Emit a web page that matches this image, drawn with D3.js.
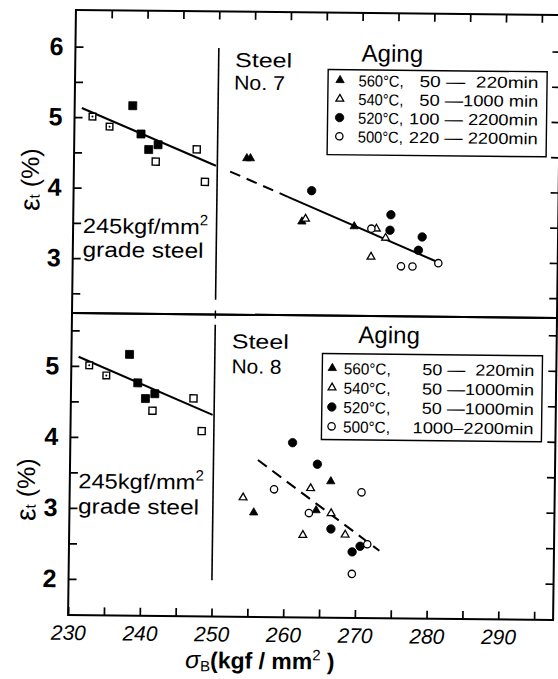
<!DOCTYPE html>
<html>
<head>
<meta charset="utf-8">
<script src="https://cdn.jsdelivr.net/npm/d3@7"></script>
<style>
  body { margin: 0; background: #fff; }
  svg text { font-family: "Liberation Sans", Arial, sans-serif; fill: #000; }
</style>
</head>
<body>
<svg id="chart" width="558" height="679"></svg>
<script>
// ---------- data ----------
// 245 kgf/mm2 grade reference steel (same in both panels)
const refDottedX = [232.5, 234.9];
const refDottedY = [5.01, 4.87];
const refFilledX = [238.1, 239.3, 240.4, 241.7];
const refFilledY = [5.17, 4.77, 4.55, 4.62];
const refOpenX = [241.4, 247.1, 248.3];
const refOpenY = [4.38, 4.56, 4.10];
const refFitX = [231.0, 249.8];
const refFitY = [5.13, 4.33];

// Steel No. 7, aging conditions
const s7Aging560X = [254.1, 254.6, 261.9, 269.2];
const s7Aging560Y = [4.44, 4.44, 3.55, 3.49];
const s7Aging540X = [262.4, 272.3, 273.6, 271.6];
const s7Aging540Y = [3.59, 3.46, 3.33, 3.06];
const s7Aging520X = [263.2, 274.3, 274.2, 278.7, 278.2];
const s7Aging520Y = [3.99, 3.66, 3.44, 3.35, 3.16];
const s7Aging500X = [271.6, 275.8, 277.4, 281.0];
const s7Aging500Y = [3.46, 2.93, 2.93, 2.98];
const s7FitDashX = [251.8, 259.9];
const s7FitDashY = [4.25, 3.90];
const s7FitSolidX = [259.9, 280.8];
const s7FitSolidY = [3.90, 3.00];

// Steel No. 8, aging conditions
const s8Aging560X = [255.7, 266.4, 264.4];
const s8Aging560Y = [2.96, 3.41, 3.00];
const s8Aging540X = [254.2, 263.6, 266.5, 262.6, 268.5];
const s8Aging540Y = [3.17, 3.31, 2.96, 2.65, 2.66];
const s8Aging520X = [261.0, 264.5, 266.5, 270.6, 269.5];
const s8Aging520Y = [3.95, 3.65, 2.74, 2.50, 2.42];
const s8Aging500X = [258.5, 270.7, 263.4, 271.6, 269.5];
const s8Aging500Y = [3.29, 3.26, 2.96, 2.53, 2.11];
const s8FitDashX = [256.2, 273.3];
const s8FitDashY = [3.70, 2.44];

// legend texts: temperature, time range
const s7LegendTemp = ["560°C,", "540°C,", "520°C,", "500°C,"];
const s7LegendTime = ["50 —  220min", "50 —1000 min", "100 — 2200min", "220 — 2200min"];
const s8LegendTemp = ["560°C,", "540°C,", "520°C,", "500°C,"];
const s8LegendTime = ["50 —  220min", "50 —1000min", "50 —1000min", "1000–2200min"];

// axis ranges and ticks
const xDomain = [230, 297.65];
const xTicks = [230, 235, 240, 245, 250, 255, 260, 265, 270, 275, 280, 285, 290, 295];
const xLabels = [230, 240, 250, 260, 270, 280, 290];
const yTopDomain = [2.22, 6.52];
const yTopTicks = [2.5, 3, 3.5, 4, 4.5, 5, 5.5, 6];
const yTopLabels = [3, 4, 5, 6];
const yBotDomain = [1.49, 5.745];
const yBotTicks = [2, 2.5, 3, 3.5, 4, 4.5, 5, 5.5];
const yBotLabels = [2, 3, 4, 5];
const dividerX = 250;
const dividerTop = [6.0, 2.43];
const dividerBot = [5.6, 2.0];

// ---------- layout ----------
const X0 = 72, X1 = 557, YT = 10, YM = 313, YB = 615;
const svg = d3.select("#chart");
// the figure sits very slightly askew on the page
const g = svg.append("g").attr("transform", "matrix(1,0.0102,-0.013,1,4.069,-0.734)");

const x = d3.scaleLinear().domain(xDomain).range([X0, X1]);
const yTop = d3.scaleLinear().domain(yTopDomain).range([YM, YT]);
const yBot = d3.scaleLinear().domain(yBotDomain).range([YB, YM]);

const TICK = 8;

function styleAxis(sel) {
  sel.select(".domain").remove();
  sel.selectAll(".tick line").attr("stroke", "#000").attr("stroke-width", 1.7);
}

function drawFrame(y0, y1) {
  g.append("rect").attr("x", X0).attr("y", y0).attr("width", X1 - X0).attr("height", y1 - y0)
    .attr("fill", "none").attr("stroke", "#000").attr("stroke-width", 2);
}

function drawYAxes(y, ticks, labels) {
  const left = g.append("g").attr("transform", `translate(${X0},0)`)
    .call(d3.axisLeft(y).tickValues(ticks).tickSize(-TICK).tickPadding(12)
      .tickFormat(d => labels.includes(d) ? d : ""));
  styleAxis(left);
  left.selectAll("text").attr("font-size", 25).attr("font-weight", "bold");
  const right = g.append("g").attr("transform", `translate(${X1},0)`)
    .call(d3.axisRight(y).tickValues(ticks).tickSize(-TICK).tickFormat(""));
  styleAxis(right);
}

// ---------- frames and axes ----------
drawFrame(YT, YM);
drawFrame(YM, YB);
drawYAxes(yTop, yTopTicks, yTopLabels);
drawYAxes(yBot, yBotTicks, yBotLabels);

const topAx = g.append("g").attr("transform", `translate(0,${YT})`)
  .call(d3.axisTop(x).tickValues(xTicks.slice(1)).tickSize(-TICK).tickFormat(""));
styleAxis(topAx);

const botAx = g.append("g").attr("transform", `translate(0,${YB})`)
  .call(d3.axisBottom(x).tickValues(xTicks).tickSize(-TICK).tickPadding(10)
    .tickFormat(d => xLabels.includes(d) ? d : ""));
styleAxis(botAx);
botAx.selectAll("text").attr("font-size", 21).attr("font-style", "italic");

// dividers at 250 kgf/mm2
g.append("line").attr("x1", x(dividerX)).attr("x2", x(dividerX))
  .attr("y1", yTop(dividerTop[0])).attr("y2", yTop(dividerTop[1]))
  .attr("stroke", "#000").attr("stroke-width", 1.6);
g.append("line").attr("x1", x(dividerX)).attr("x2", x(dividerX))
  .attr("y1", yBot(dividerBot[0])).attr("y2", yBot(dividerBot[1]))
  .attr("stroke", "#000").attr("stroke-width", 1.6);
g.append("line").attr("x1", x(dividerX)).attr("x2", x(dividerX))
  .attr("y1", YM - 4).attr("y2", YM + 4).attr("stroke", "#000").attr("stroke-width", 1.4);

// ---------- fit lines ----------
function fitLine(xs, ys, y, dash) {
  g.append("line")
    .attr("x1", x(xs[0])).attr("y1", y(ys[0]))
    .attr("x2", x(xs[1])).attr("y2", y(ys[1]))
    .attr("stroke", "#000").attr("stroke-width", 2)
    .attr("stroke-dasharray", dash ? "11,7" : null);
}
fitLine(refFitX, refFitY, yTop, false);
fitLine(s7FitDashX, s7FitDashY, yTop, true);
fitLine(s7FitSolidX, s7FitSolidY, yTop, false);
fitLine(refFitX, refFitY, yBot, false);
fitLine(s8FitDashX, s8FitDashY, yBot, true);

// ---------- markers ----------
const markerStyles = {
  triFilled: { type: d3.symbolTriangle, size: 30, fill: "#000", stroke: "#000", sw: 0.8 },
  triOpen:   { type: d3.symbolTriangle, size: 26, fill: "#fff", stroke: "#000", sw: 1.3 },
  dotFilled: { type: d3.symbolCircle,   size: 56, fill: "#000", stroke: "#000", sw: 0.8 },
  dotOpen:   { type: d3.symbolCircle,   size: 42, fill: "#fff", stroke: "#000", sw: 1.3 },
  sqFilled:  { type: d3.symbolSquare,   size: 64, fill: "#000", stroke: "#000", sw: 0.8 },
  sqOpen:    { type: d3.symbolSquare,   size: 50, fill: "#fff", stroke: "#000", sw: 1.4 },
  sqDotted:  { type: d3.symbolSquare,   size: 44, fill: "#fff", stroke: "#000", sw: 1.4 }
};

function marker(cx, cy, kind) {
  const s = markerStyles[kind];
  g.append("path")
    .attr("d", d3.symbol().type(s.type).size(s.size)())
    .attr("transform", `translate(${cx},${cy})`)
    .attr("fill", s.fill).attr("stroke", s.stroke).attr("stroke-width", s.sw);
  if (kind === "sqDotted") {
    g.append("circle").attr("cx", cx).attr("cy", cy).attr("r", 1).attr("fill", "#000");
  }
}

function series(xs, ys, y, kind) {
  xs.forEach((v, i) => marker(x(v), y(ys[i]), kind));
}

[yTop, yBot].forEach(y => {
  series(refDottedX, refDottedY, y, "sqDotted");
  series(refOpenX, refOpenY, y, "sqOpen");
  series(refFilledX, refFilledY, y, "sqFilled");
});

series(s7Aging560X, s7Aging560Y, yTop, "triFilled");
series(s7Aging520X, s7Aging520Y, yTop, "dotFilled");
series(s7Aging540X, s7Aging540Y, yTop, "triOpen");
series(s7Aging500X, s7Aging500Y, yTop, "dotOpen");

series(s8Aging560X, s8Aging560Y, yBot, "triFilled");
series(s8Aging520X, s8Aging520Y, yBot, "dotFilled");
series(s8Aging540X, s8Aging540Y, yBot, "triOpen");
series(s8Aging500X, s8Aging500Y, yBot, "dotOpen");

// ---------- legends ----------
const legendKinds = ["triFilled", "triOpen", "dotFilled", "dotOpen"];

function legend(cfg, temps, times) {
  g.append("text").attr("x", cfg.titleX).attr("y", cfg.titleY)
    .attr("text-anchor", "middle").attr("font-size", 24).text("Aging");
  g.append("rect").attr("x", cfg.box[0]).attr("y", cfg.box[1])
    .attr("width", cfg.box[2]).attr("height", cfg.box[3])
    .attr("fill", "#fff").attr("stroke", "#000").attr("stroke-width", 1.4);
  temps.forEach((t, i) => {
    const cy = cfg.row0 + i * cfg.rowStep;
    marker(cfg.markerX, cy, legendKinds[i]);
    g.append("text").attr("x", cfg.tempX).attr("y", cy + 6)
      .attr("font-size", 16).attr("textLength", cfg.tempW).attr("lengthAdjust", "spacingAndGlyphs")
      .text(t);
    g.append("text").attr("x", cfg.timeEnd - cfg.timeW[i]).attr("y", cy + 6)
      .attr("font-size", 16).attr("textLength", cfg.timeW[i]).attr("lengthAdjust", "spacingAndGlyphs")
      .style("white-space", "pre")
      .text(times[i]);
  });
}

legend({ titleX: 389, titleY: 58.5, box: [325, 67, 219, 85], row0: 77.5, rowStep: 18.7,
         markerX: 337, tempX: 355.5, tempW: 45, timeEnd: 535.5, timeW: [119, 119, 129, 129] },
       s7LegendTemp, s7LegendTime);
legend({ titleX: 389.4, titleY: 340, box: [323, 351, 220, 86], row0: 365.5, rowStep: 19.4,
         markerX: 333, tempX: 344.4, tempW: 47, timeEnd: 535, timeW: [112, 112, 112, 121] },
       s8LegendTemp, s8LegendTime);

// ---------- annotations ----------
function label(tx, ty, str, w, fs) {
  const t = g.append("text").attr("x", tx).attr("y", ty).attr("font-size", fs || 22).text(str);
  if (w) t.attr("textLength", w).attr("lengthAdjust", "spacingAndGlyphs");
  return t;
}
label(231.8, 65.3, "Steel", 57, 20);
label(231, 88, "No. 7", 51, 20);
label(232.2, 346.7, "Steel", 57, 20);
label(232.2, 371.7, "No. 8", 50, 20);

function gradeLabel(tx, ty1, ty2) {
  const t = g.append("text").attr("x", tx).attr("y", ty1).attr("font-size", 21);
  t.append("tspan").text("245kgf/mm").attr("textLength", 117).attr("lengthAdjust", "spacingAndGlyphs");
  t.append("tspan").text("2").attr("font-size", 15).attr("dy", -9);
  label(tx, ty2, "grade steel", 121, 21);
}
gradeLabel(81.7, 232.9, 256.6);
gradeLabel(80.6, 488.2, 513.2);

// y-axis titles
[180, 490].forEach(cy => {
  const t = g.append("text")
    .attr("transform", `translate(28,${cy}) rotate(-90)`)
    .attr("text-anchor", "middle").attr("dominant-baseline", "central")
    .attr("font-size", 25);
  t.append("tspan").text("ε").attr("font-size", 28);
  t.append("tspan").text("t").attr("font-size", 15).attr("dy", 4);
  t.append("tspan").text(" (%)").attr("dy", -4);
});

// x-axis title
const xt = g.append("text").attr("x", 189.6).attr("y", 666.8).attr("font-size", 23);
xt.append("tspan").text("σ").attr("font-style", "italic").attr("font-size", 25);
xt.append("tspan").text("B").attr("font-size", 15).attr("dy", 3);
xt.append("tspan").text("(kgf / mm").attr("dy", -3).attr("font-weight", "bold")
  .attr("textLength", 102).attr("lengthAdjust", "spacingAndGlyphs");
xt.append("tspan").text("2").attr("font-size", 15).attr("dy", -9);
xt.append("tspan").text(" )").attr("dy", 9).attr("font-weight", "bold");
</script>
</body>
</html>
